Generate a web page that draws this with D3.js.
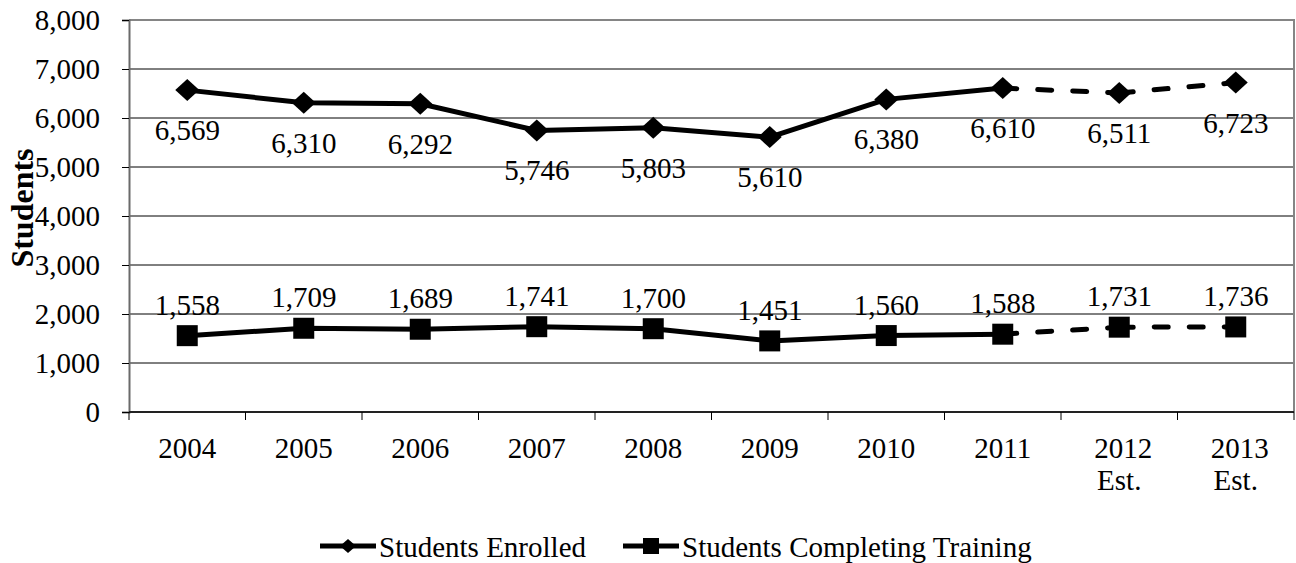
<!DOCTYPE html>
<html>
<head>
<meta charset="utf-8">
<script src="https://cdn.jsdelivr.net/npm/d3@7"></script>
<style>
  html, body { margin: 0; padding: 0; background: #fff; }
  svg { display: block; }
</style>
</head>
<body>
<svg id="chart" width="1296" height="563"></svg>
<script>
// Years on the x axis (second line shown under estimate years)
const years = ["2004", "2005", "2006", "2007", "2008", "2009", "2010", "2011", "2012", "2013"];
const yearNotes = ["", "", "", "", "", "", "", "", "Est.", "Est."];
// Students enrolled per year
const enrolled = [6569, 6310, 6292, 5746, 5803, 5610, 6380, 6610, 6511, 6723];
// Students completing training per year
const completing = [1558, 1709, 1689, 1741, 1700, 1451, 1560, 1588, 1731, 1736];
// Index of the last actual year; later points are estimates drawn dashed
const lastActual = 7;
const yTicks = [0, 1000, 2000, 3000, 4000, 5000, 6000, 7000, 8000];

const SERIF = '"Liberation Serif", Tinos, "Times New Roman", serif';
const svg = d3.select("#chart").style("font-family", SERIF);
const margin = { left: 129, right: 2, top: 20, bottom: 151 };
const W = 1296, H = 563;

const x = d3.scaleBand().domain(years).range([margin.left, W - margin.right]).padding(0);
const y = d3.scaleLinear().domain([0, 8000]).range([H - margin.bottom, margin.top]);
const cx = d => x(d) + x.bandwidth() / 2;
const fmt = d3.format(",");
const FS = 29;

function txt(sel) {
  return sel.style("font-family", SERIF).attr("fill", "#000");
}

// Horizontal gridlines
svg.append("g").selectAll("line").data(yTicks.filter(v => v > 0 && v < 8000)).join("line")
  .attr("x1", margin.left).attr("x2", W - margin.right)
  .attr("y1", d => y(d)).attr("y2", d => y(d))
  .attr("stroke", "#000").attr("stroke-width", 1);

// Plot frame (top and right)
svg.append("path")
  .attr("d", `M${margin.left},${y(8000)}H${W - margin.right}V${y(0)}`)
  .attr("fill", "none").attr("stroke", "#858585").attr("stroke-width", 2);

// Y axis
const yAxis = svg.append("g").attr("transform", `translate(${margin.left},0)`)
  .call(d3.axisLeft(y).tickValues(yTicks).tickFormat(fmt).tickSize(7).tickPadding(22));
yAxis.attr("font-family", null).attr("font-size", null);
yAxis.select(".domain").attr("stroke", "#6a6a6a").attr("stroke-width", 2);
yAxis.selectAll(".tick line").attr("stroke", "#000");
txt(yAxis.selectAll(".tick text")).attr("font-size", FS).attr("dy", "0.34em");

// X axis with boundary ticks between categories
const xAxisG = svg.append("g").attr("transform", `translate(0,${y(0)})`);
xAxisG.append("line").attr("x1", margin.left).attr("x2", W - margin.right)
  .attr("stroke", "#222").attr("stroke-width", 2);
const bounds = years.map(d => x(d)).concat([x(years[years.length - 1]) + x.bandwidth()]);
xAxisG.selectAll("line.tk").data(bounds).join("line").attr("class", "tk")
  .attr("x1", d => d).attr("x2", d => d).attr("y1", 0).attr("y2", 8)
  .attr("stroke", "#000").attr("stroke-width", 1);
txt(xAxisG.selectAll("text.yr").data(years).join("text").attr("class", "yr"))
  .attr("x", (d, i) => cx(d) + (yearNotes[i] ? 4 : 0)).attr("y", 46)
  .attr("text-anchor", "middle").attr("font-size", FS).text(d => d);
txt(xAxisG.selectAll("text.note").data(years.map((d, i) => ({ d, n: yearNotes[i] })).filter(o => o.n)).join("text"))
  .attr("class", "note")
  .attr("x", o => cx(o.d)).attr("y", 78)
  .attr("text-anchor", "middle").attr("font-size", FS).text(o => o.n);

// Y axis title
txt(svg.append("text"))
  .attr("transform", "translate(33,208) rotate(-90)")
  .attr("text-anchor", "middle").attr("font-size", 32).attr("font-weight", "bold")
  .text("Students");

const line = d3.line().x(d => cx(d.year)).y(d => y(d.v));

function drawSeries(values, shape, labelDy) {
  const pts = values.map((v, i) => ({ year: years[i], v }));
  const g = svg.append("g");
  // actual years: one solid line
  g.append("path").datum(pts.slice(0, lastActual + 1)).attr("d", line)
    .attr("fill", "none").attr("stroke", "#000").attr("stroke-width", 5).attr("stroke-linejoin", "round");
  // estimates: each segment dashed on its own
  const est = pts.slice(lastActual);
  g.selectAll("path.est").data(d3.pairs(est)).join("path").attr("class", "est")
    .attr("d", line)
    .attr("fill", "none").attr("stroke", "#000").attr("stroke-width", 5)
    .attr("stroke-dasharray", "14 21").attr("stroke-linecap", "round");
  g.selectAll("path.m").data(pts).join("path").attr("class", "m")
    .attr("transform", d => `translate(${cx(d.year)},${y(d.v)})`)
    .attr("d", shape).attr("fill", "#000");
  txt(g.selectAll("text").data(pts).join("text"))
    .attr("x", d => cx(d.year)).attr("y", d => y(d.v) + labelDy)
    .attr("text-anchor", "middle").attr("font-size", FS).text(d => fmt(d.v));
}

const diamond = "M0,-11L12,0L0,11L-12,0Z";
const square = "M-10.5,-10.5H10.5V10.5H-10.5Z";
drawSeries(enrolled, diamond, 50);
drawSeries(completing, square, -21);

// Legend
const lg = svg.append("g").attr("transform", "translate(0,546)");
const items = [
  { label: "Students Enrolled", shape: "M0,-7L8,0L0,7L-8,0Z", x: 320 },
  { label: "Students Completing Training", shape: "M-8,-8H8V8H-8Z", x: 623 }
];
items.forEach(it => {
  lg.append("line").attr("x1", it.x).attr("x2", it.x + 56).attr("y1", 0).attr("y2", 0)
    .attr("stroke", "#000").attr("stroke-width", 5);
  lg.append("path").attr("d", it.shape).attr("transform", `translate(${it.x + 28},0)`).attr("fill", "#000");
  txt(lg.append("text")).attr("x", it.x + 59).attr("y", 11).attr("font-size", FS).text(it.label);
});
</script>
</body>
</html>
